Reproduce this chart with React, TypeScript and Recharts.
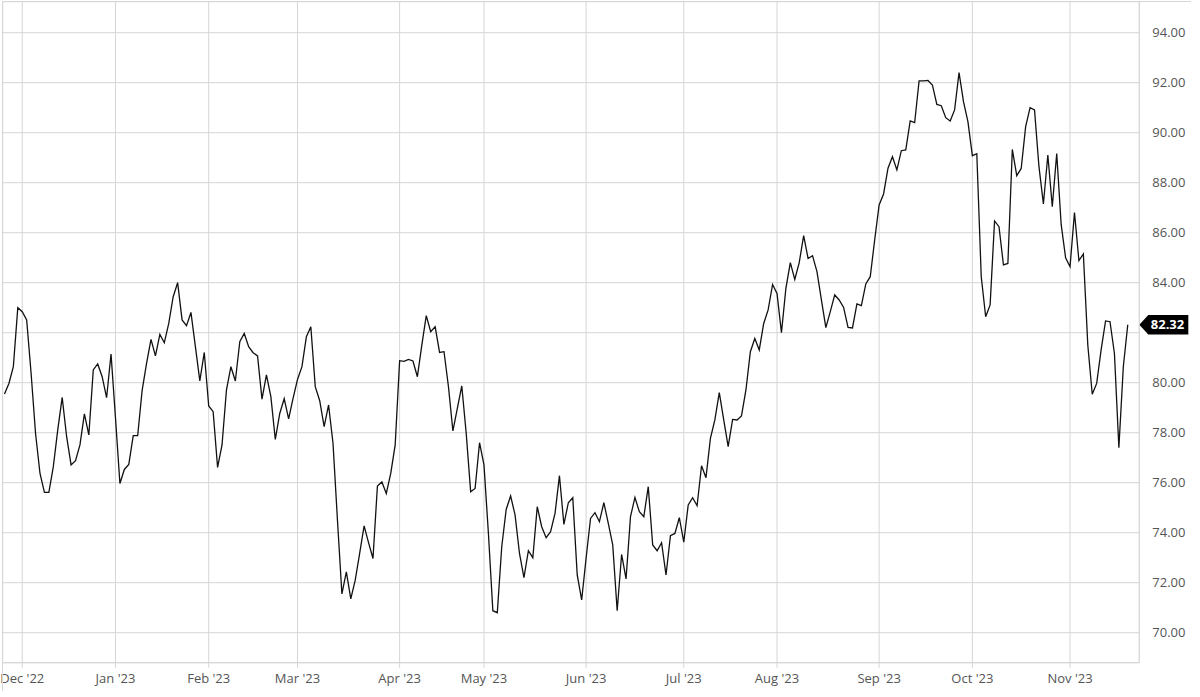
import { LineChart, Line, XAxis, YAxis, CartesianGrid, ReferenceLine } from "recharts";

// one close per trading day, Nov '22 .. Nov 20 '23
const closes: number[] = [
  79.55, 79.97, 80.64, 83.0, 82.84, 82.51, 80.37, 77.97, 76.37, 75.61,
  75.61, 76.64, 78.11, 79.41, 77.84, 76.71, 76.88, 77.51, 78.75, 77.91,
  80.51, 80.75, 80.24, 79.4, 81.15, 78.6, 75.97, 76.53, 76.73, 77.88,
  77.88, 79.68, 80.77, 81.73, 81.07, 81.93, 81.6, 82.37, 83.44, 84.0,
  82.51, 82.28, 82.81, 81.44, 80.07, 81.21, 79.07, 78.84, 76.61, 77.51,
  79.71, 80.64, 80.07, 81.64, 81.97, 81.44, 81.2, 81.07, 79.34, 80.31,
  79.44, 77.73, 78.77, 79.36, 78.55, 79.37, 80.13, 80.64, 81.84, 82.24,
  79.84, 79.28, 78.24, 79.11, 77.57, 74.5, 71.55, 72.43, 71.35, 72.1,
  73.17, 74.27, 73.6, 72.97, 75.87, 76.03, 75.57, 76.37, 77.51, 80.88,
  80.85, 80.93, 80.87, 80.24, 81.5, 82.68, 82.04, 82.24, 81.21, 81.24,
  79.84, 78.07, 78.97, 79.87, 77.97, 75.64, 75.77, 77.6, 76.71, 73.97,
  70.88, 70.8, 73.44, 74.93, 75.47, 74.71, 73.17, 72.2, 73.28, 73.0,
  75.04, 74.24, 73.8, 74.04, 74.77, 76.28, 74.33, 75.2, 75.4, 72.31,
  71.31, 72.98, 74.57, 74.8, 74.44, 75.2, 74.37, 73.51, 70.88, 73.13,
  72.15, 74.64, 75.41, 74.84, 74.64, 75.84, 73.51, 73.28, 73.6, 72.31,
  73.88, 73.97, 74.6, 73.62, 75.11, 75.4, 75.08, 76.68, 76.2, 77.77,
  78.51, 79.6, 78.51, 77.44, 78.53, 78.51, 78.67, 79.71, 81.24, 81.77,
  81.31, 82.37, 82.91, 83.93, 83.57, 82.0, 83.77, 84.8, 84.13, 84.8,
  85.88, 84.97, 85.08, 84.44, 83.31, 82.2, 82.84, 83.51, 83.31, 83.01,
  82.21, 82.19, 83.15, 83.08, 83.95, 84.24, 85.71, 87.11, 87.55, 88.58,
  89.04, 88.51, 89.28, 89.31, 90.47, 90.4, 92.07, 92.07, 92.09, 91.91,
  91.13, 91.08, 90.6, 90.47, 90.91, 92.4, 91.24, 90.44, 89.08, 89.16,
  84.24, 82.64, 83.11, 86.47, 86.24, 84.71, 84.77, 89.33, 88.28, 88.57,
  90.24, 91.0, 90.91, 88.64, 87.15, 89.11, 87.04, 89.17, 86.33, 85.0,
  84.64, 86.81, 84.88, 85.15, 81.51, 79.54, 79.97, 81.31, 82.47, 82.44,
  81.17, 77.4, 80.64, 82.32,
];

// index of first trading day of each month
const monthTicks = [4, 25, 46, 66, 89, 108, 131, 153, 174, 197, 218, 240];
const monthLabels = [
  "Dec '22", "Jan '23", "Feb '23", "Mar '23", "Apr '23", "May '23",
  "Jun '23", "Jul '23", "Aug '23", "Sep '23", "Oct '23", "Nov '23",
];
const priceTicks = [70, 72, 74, 76, 78, 80, 82, 84, 86, 88, 90, 92, 94];

const data = closes.map((close, i) => ({ i, close }));
const lastClose = closes[closes.length - 1];

const GRID = "#d6d6d6";
const TEXT = "#555";

const PriceTick = ({ x, y, payload }: any) => {
  // the last-price tag covers the label next to it
  if (Math.abs(payload.value - lastClose) < 0.9) return <g />;
  return (
    <text x={x} y={y} dy={4.5} textAnchor="start" fill={TEXT} fontSize={13}>
      {payload.value.toFixed(2)}
    </text>
  );
};

const LastTag = ({ viewBox }: any) => {
  const x = viewBox.x + viewBox.width;
  const y = viewBox.y;
  return (
    <g>
      <path
        d={`M${x},${y} L${x + 9},${y - 9.7} L${x + 49},${y - 9.7} L${x + 49},${y + 9.7} L${x + 9},${y + 9.7} Z`}
        fill="#000"
      />
      <text x={x + 11.5} y={y} dy={4.6} fill="#fff" fontSize={13} fontWeight={700}>
        {lastClose.toFixed(2)}
      </text>
    </g>
  );
};

const App = () => {
  return (
    <div style={{ position: "absolute", left: 0, top: 0, width: 1200, height: 697, fontFamily: "'Open Sans', sans-serif", background: "#fff" }}>
      <LineChart width={1200} height={697} data={data} margin={{ top: 1.7, right: 0, bottom: 0, left: 2.7 }}>
        <CartesianGrid stroke={GRID} strokeWidth={1} />
        <XAxis
          type="number"
          dataKey="i"
          domain={[-0.4, 255.6]}
          allowDataOverflow
          ticks={monthTicks}
          interval={0}
          tickFormatter={(v) => monthLabels[monthTicks.indexOf(v)] ?? ""}
          height={34.3}
          stroke={GRID}
          tickSize={5}
          tickMargin={6}
          tick={{ fill: TEXT, fontSize: 13 }}
        />
        <YAxis
          orientation="right"
          domain={[68.8, 95.24]}
          allowDataOverflow
          ticks={priceTicks}
          width={60.7}
          stroke={GRID}
          tickLine={false}
          tickSize={0}
          tickMargin={13}
          tick={<PriceTick />}
        />
        <Line
          type="linear"
          dataKey="close"
          stroke="#111"
          strokeWidth={1.3}
          dot={false}
          isAnimationActive={false}
        />
        <ReferenceLine y={lastClose} stroke="none" label={(p: any) => <LastTag {...p} />} />
      </LineChart>
      <div
        style={{
          position: "absolute",
          left: 2.2,
          top: 1.2,
          width: 1188,
          height: 689,
          borderTop: `1px solid ${GRID}`,
          borderLeft: `1px solid ${GRID}`,
          pointerEvents: "none",
        }}
      />
    </div>
  );
};

export default App;
